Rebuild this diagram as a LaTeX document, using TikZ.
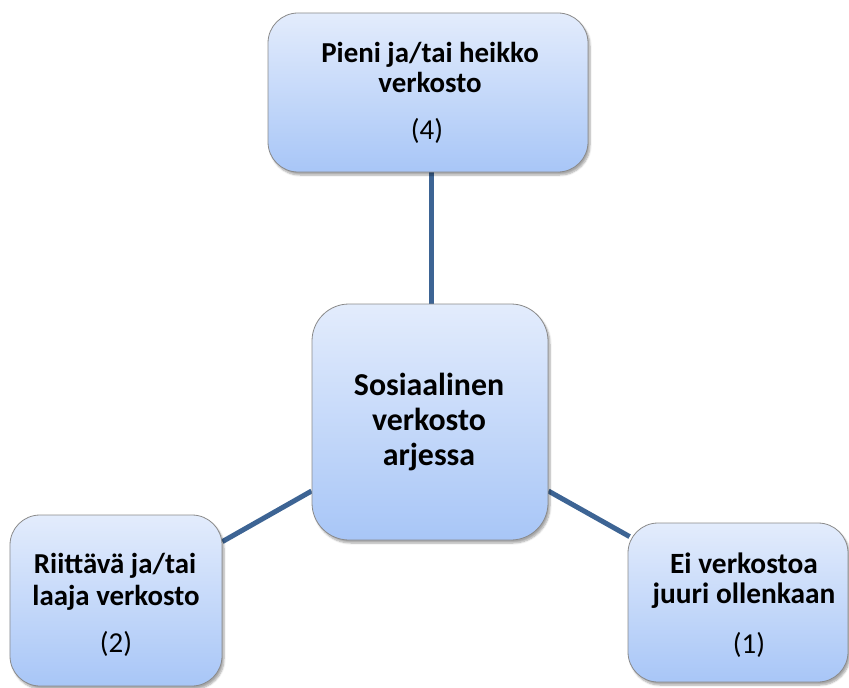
\documentclass[tikz,border=0pt]{standalone}
\usepackage{fontspec}
\setmainfont{Carlito}
\usetikzlibrary{calc,shadows.blur,backgrounds}
\definecolor{boxtop}{HTML}{E3ECFC}
\definecolor{boxbot}{HTML}{A8C6F7}
\definecolor{boxline}{HTML}{8A8A8A}
\definecolor{conn}{HTML}{3D6494}
\tikzset{
  bubble/.style={draw=boxline, line width=0.8bp, rounded corners=30bp, top color=boxtop, bottom color=boxbot,
    inner sep=0pt, blur shadow={shadow xshift=2bp, shadow yshift=-3bp, shadow blur steps=6, shadow opacity=35}},
  headtxt/.style={anchor=base, inner sep=0pt, font=\bfseries\fontsize{29}{34}\selectfont},
  sidetxt/.style={anchor=base, inner sep=0pt, font=\bfseries\fontsize{29.5}{34}\selectfont},
  bigtxt/.style={anchor=base, inner sep=0pt, font=\bfseries\fontsize{32}{38}\selectfont},
  numtxt/.style={anchor=base, inner sep=0pt, font=\fontsize{29}{34}\selectfont},
  link/.style={draw=conn, line width=5bp}
}
\begin{document}
\begin{tikzpicture}[x=1bp,y=-1bp]
\useasboundingbox (0,0) rectangle (849,688);
\node[bubble, minimum width=320bp, minimum height=159bp] (top) at (428,92.5) {};
\node[bubble, minimum width=236bp, minimum height=236bp, rounded corners=37bp] (mid) at (430,422) {};
\node[bubble, minimum width=212bp, minimum height=171bp] (lft) at (116,600.5) {};
\node[bubble, minimum width=220bp, minimum height=159bp] (rgt) at (738,602.5) {};
\begin{scope}[on background layer]
\draw[link] (mid.north -| 431,0) -- (top.south -| 431,0);
\draw[link] ($(mid.west)+(0,69)$) -- ($(lft.north east)+(0,27)$);
\draw[link] ($(mid.east)+(0,69)$) -- ($(rgt.north west)+(2,14)$);
\end{scope}
\node[headtxt] (t1) at (430,63) {Pieni ja/tai heikko};
\node[headtxt] (t2) at (430,93) {verkosto};
\node[numtxt] (t3) at (427,140) {(4)};
\node[bigtxt] (m1) at (429,395) {Sosiaalinen};
\node[bigtxt] (m2) at (429,430) {verkosto};
\node[bigtxt] (m3) at (429,465) {arjessa};
\node[headtxt] (l1) at (115,573) {Riittävä ja/tai};
\node[headtxt] (l2) at (116,605) {laaja verkosto};
\node[numtxt] (l3) at (116,652) {(2)};
\node[sidetxt] (r1) at (744,573) {Ei verkostoa};
\node[sidetxt] (r2) at (744,603) {juuri ollenkaan};
\node[numtxt] (r3) at (749,653) {(1)};
\end{tikzpicture}
\end{document}
